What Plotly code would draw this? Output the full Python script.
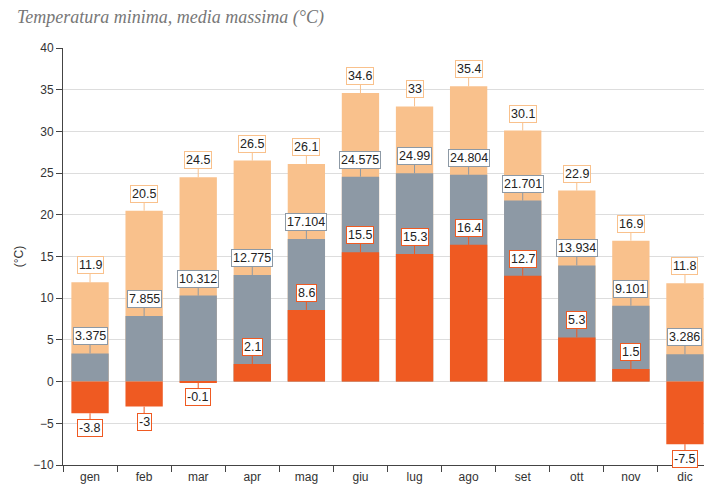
import plotly.graph_objects as go

# Monthly data
mesi = ["gen", "feb", "mar", "apr", "mag", "giu", "lug", "ago", "set", "ott", "nov", "dic"]
t_max = [11.9, 20.5, 24.5, 26.5, 26.1, 34.6, 33, 35.4, 30.1, 22.9, 16.9, 11.8]
t_media = [3.375, 7.855, 10.312, 12.775, 17.104, 24.575, 24.99, 24.804, 21.701, 13.934, 9.101, 3.286]
t_min = [-3.8, -3, -0.1, 2.1, 8.6, 15.5, 15.3, 16.4, 12.7, 5.3, 1.5, -7.5]

col_max = "#F9C18C"
col_media = "#8D99A5"
col_min = "#EF5A22"

fig = go.Figure()

# Overlapping bars: max behind, media in the middle, min on top
for vals, col, name in [(t_max, col_max, "massima"),
                        (t_media, col_media, "media"),
                        (t_min, col_min, "minima")]:
    fig.add_trace(go.Bar(x=mesi, y=vals, name=name, marker=dict(color=col, line=dict(width=0)),
                         width=0.69, hoverinfo="x+y"))

# Boxed value labels with a short connector
annotations = []
for vals, col in [(t_max, col_max), (t_media, col_media), (t_min, col_min)]:
    for m, v in zip(mesi, vals):
        annotations.append(dict(
            x=m, y=v, xref="x", yref="y", text=str(v),
            showarrow=True, arrowhead=0, arrowwidth=1, arrowcolor=col,
            ax=0, ay=(-17 if v >= 0 else 15),
            font=dict(family="Arial", size=12.5, color="#222"),
            bgcolor="white", bordercolor=col, borderwidth=1, borderpad=1,
        ))

# Chart title
annotations.append(dict(
    x=-0.074, y=1.074, xref="paper", yref="paper", xanchor="left", yanchor="middle",
    text="<i>Temperatura minima, media massima (°C)</i>", showarrow=False,
    font=dict(family="Liberation Serif", size=18, color="#777"),
))

# page body adds an 8px offset, so the figure is 8px smaller than the window
fig.update_layout(
    barmode="overlay",
    width=704, height=478,
    margin=dict(l=55, r=0, t=40, b=21),
    paper_bgcolor="white", plot_bgcolor="white",
    showlegend=False,
    font=dict(family="Arial", size=12, color="#333"),
    annotations=annotations,
    xaxis=dict(showline=True, linecolor="#444", ticks="outside", tickson="boundaries",
               ticklen=6, tickcolor="#444", showgrid=False, ticklabelstandoff=1),
    yaxis=dict(range=[-10, 40], dtick=5, showline=True, linecolor="#444", ticks="outside",
               ticklen=6, tickcolor="#444", showgrid=True, gridcolor="#ddd", zeroline=False,
               title=dict(text="(°C)", standoff=7, font=dict(size=12))),
)

fig.write_html("out.html")
